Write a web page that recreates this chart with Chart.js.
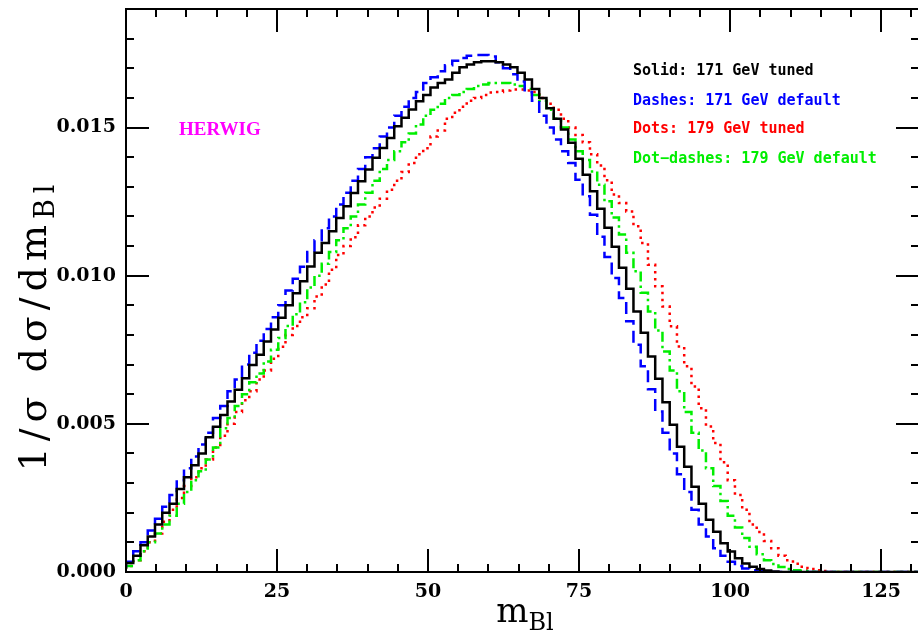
<!DOCTYPE html>
<html>
<head>
<meta charset="utf-8">
<script src="https://cdn.jsdelivr.net/npm/chart.js@4.4.1/dist/chart.umd.min.js"></script>
<style>
  html, body { margin: 0; padding: 0; background: #fff; overflow: hidden; }
  #wrap { position: relative; width: 918px; height: 637px; }
</style>
</head>
<body>
<div id="wrap"><canvas id="c" width="918" height="637"></canvas></div>
<script>
// ---------- DATA ----------
const binWidth = 1.2;          // GeV, histogram bin width
const xTickLabels = [0, 25, 50, 75, 100, 125];
const yTickLabels = [0.000, 0.005, 0.010, 0.015];

const seriesNames = [
  'Solid: 171 GeV tuned',
  'Dashes: 171 GeV default',
  'Dots: 179 GeV tuned',
  'Dot\u2212dashes: 179 GeV default'
];

const solid171Tuned = [
  0.00012,0.0003,0.00055,0.0009,0.0012,0.0016,0.0020,0.0023,0.0028,0.0032,
  0.0036,0.0040,0.00455,0.0049,0.0053,0.00575,0.00615,0.00654,0.00699,0.00733,
  0.00778,0.00818,0.00858,0.0090,0.00941,0.00981,0.01031,0.01077,0.0111,0.0115,
  0.01195,0.01234,0.01279,0.01319,0.01358,0.01398,0.01431,0.01465,0.01504,0.01533,
  0.01561,0.01589,0.0161,0.01635,0.0165,0.01662,0.01685,0.01703,0.01713,0.0172,
  0.01724,0.01724,0.0172,0.01713,0.01703,0.01685,0.01662,0.0163,0.0160,0.01565,
  0.0153,0.01493,0.01449,0.01395,0.01341,0.01285,0.01226,0.01162,0.01098,0.01027,
  0.00956,0.00879,0.00807,0.00727,0.00652,0.00573,0.00497,0.00423,0.00355,0.00288,
  0.0023,0.00176,0.00136,0.00097,0.00069,0.00046,0.00029,0.00018,0.0001,0.00005,
  0.00002,0,0,0,0,0,0,0,0,0,
  0,0,0,0,0,0,0,0,0,0
];

const dashes171Default = [
  0.00015,0.00035,0.0007,0.0010,0.0014,0.0018,0.0022,0.0026,0.0031,0.0035,
  0.0039,0.0043,0.0047,0.0052,0.0056,0.0061,0.0065,0.0070,0.0074,0.0078,
  0.0082,0.0086,0.0090,0.0095,0.0099,0.0103,0.0108,0.0112,0.0116,0.0120,
  0.0124,0.0128,0.0132,0.0136,0.0140,0.0143,0.0147,0.0150,0.0154,0.0157,
  0.0160,0.0162,0.0165,0.0167,0.0169,0.0171,0.01725,0.01735,0.01742,0.01745,
  0.01745,0.0174,0.0172,0.0170,0.0168,0.01655,0.0162,0.0159,0.0154,0.0150,
  0.0146,0.0142,0.0138,0.01324,0.01268,0.01206,0.01131,0.01063,0.00992,0.00925,
  0.00846,0.00767,0.00694,0.00617,0.00542,0.0047,0.0040,0.0033,0.0027,0.0021,
  0.0016,0.0012,0.0008,0.00055,0.00035,0.0002,0.00012,0.00006,0.00003,0.00001,
  0,0,0,0,0,0,0,0,0,0,
  0,0,0,0,0,0,0,0,0,0
];

const dots179Tuned = [
  0.0001,0.0002,0.0004,0.0007,0.0010,0.0013,0.0017,0.0021,0.0025,0.0029,
  0.0032,0.0035,0.0038,0.0042,0.0046,0.0050,0.0054,0.0058,0.0061,0.0065,
  0.0068,0.0072,0.0076,0.0080,0.0083,0.0086,0.0089,0.0093,0.0097,0.0102,
  0.0107,0.0110,0.0113,0.0117,0.0120,0.0123,0.0126,0.0129,0.0132,0.0135,
  0.0138,0.0141,0.0143,0.0147,0.0149,0.0153,0.0155,0.0157,0.0159,0.0160,
  0.0161,0.01618,0.0162,0.01625,0.01628,0.01628,0.01625,0.0162,0.0160,0.0158,
  0.0156,0.0153,0.0150,0.01475,0.0145,0.0141,0.01372,0.01322,0.01274,0.01245,
  0.01217,0.01167,0.0111,0.01037,0.00964,0.00896,0.00829,0.00761,0.00694,0.00626,
  0.00553,0.00491,0.00435,0.0037,0.0031,0.0026,0.0021,0.0016,0.00135,0.00105,
  0.0008,0.00055,0.0004,0.00028,0.00018,0.0001,0.00006,0.00003,0,0,
  0,0,0,0,0,0,0,0,0,0
];

const dotDashes179Default = [
  0.0001,0.0002,0.0004,0.0007,0.0010,0.0013,0.0016,0.0019,0.0023,0.0027,
  0.0031,0.0034,0.0038,0.0042,0.00485,0.0052,0.0056,0.0060,0.0064,0.0067,
  0.0071,0.0075,0.0079,0.0083,0.0087,0.0091,0.0096,0.0100,0.0104,0.0108,
  0.0112,0.0116,0.0120,0.0124,0.0128,0.0132,0.0136,0.0139,0.0142,0.0145,
  0.0148,0.0151,0.0154,0.0156,0.0158,0.0160,0.0161,0.0162,0.0163,0.0164,
  0.01645,0.0165,0.0165,0.0165,0.01645,0.0164,0.0163,0.0161,0.0159,0.0156,
  0.0153,0.0150,0.0146,0.0142,0.0139,0.01352,0.01307,0.01251,0.01196,0.01139,
  0.01077,0.01015,0.00942,0.00879,0.00815,0.00744,0.0068,0.0061,0.0054,0.0047,
  0.0041,0.0035,0.0029,0.0024,0.0019,0.0015,0.00115,0.00085,0.0006,0.0004,
  0.00027,0.00017,0.0001,0.00006,0.00003,0.00001,0,0,0,0,
  0,0,0,0,0,0,0,0,0,0
];

// ---------- build histogram points (bin lower edges) ----------
function toPoints(vals) {
  const pts = vals.map((v, i) => ({ x: i * binWidth, y: v }));
  pts.push({ x: vals.length * binWidth, y: vals[vals.length - 1] });
  return pts;
}

const X_MAX = 131.1, Y_MAX = 0.019;

const frameTicks = {
  id: 'frameTicks',
  afterDraw(chart) {
    const ctx = chart.ctx, a = chart.chartArea;
    const xs = chart.scales.x, ys = chart.scales.y;
    ctx.save();
    ctx.strokeStyle = '#000';
    ctx.lineWidth = 2;
    // frame: top, left, bottom (right edge lies at the picture border)
    ctx.beginPath();
    ctx.moveTo(a.right + 2, a.top); ctx.lineTo(a.left, a.top);
    ctx.lineTo(a.left, a.bottom); ctx.lineTo(a.right + 2, a.bottom);
    ctx.stroke();
    ctx.beginPath();
    xs.ticks.forEach(t => {
      const px = Math.round(xs.getPixelForValue(t.value));
      const major = Math.abs(t.value / 25 - Math.round(t.value / 25)) < 1e-6;
      const L = major ? 23 : 8;
      ctx.moveTo(px, a.bottom); ctx.lineTo(px, a.bottom - L);
      ctx.moveTo(px, a.top); ctx.lineTo(px, a.top + L);
    });
    ys.ticks.forEach(t => {
      const py = Math.round(ys.getPixelForValue(t.value));
      const major = Math.abs(t.value / 0.005 - Math.round(t.value / 0.005)) < 1e-6;
      const L = major ? 23 : 8;
      ctx.moveTo(a.left, py); ctx.lineTo(a.left + L, py);
      ctx.moveTo(a.right + 1, py); ctx.lineTo(a.right + 1 - L, py);
    });
    ctx.stroke();

    // Axis titles with subscripts
    function subText(main, sub, x, y, fs, sfs, drop, spacing) {
      ctx.letterSpacing = spacing + 'px';
      ctx.font = fs + 'px "DejaVu Serif"';
      const w1 = ctx.measureText(main).width;
      ctx.font = sfs + 'px "DejaVu Serif"';
      const w2 = ctx.measureText(sub).width;
      const x0 = x - (w1 + w2) / 2;
      ctx.fillStyle = '#000';
      ctx.textAlign = 'left';
      ctx.textBaseline = 'alphabetic';
      ctx.font = fs + 'px "DejaVu Serif"';
      ctx.fillText(main, x0, y);
      ctx.font = sfs + 'px "DejaVu Serif"';
      ctx.fillText(sub, x0 + w1, y + drop);
      ctx.letterSpacing = '0px';
    }
    subText('m', 'Bl', 525, 622, 34, 24, 8, 0);
    ctx.save();
    ctx.translate(46, 325);
    ctx.rotate(-Math.PI / 2);
    subText('1/\u03C3 d\u03C3/dm', 'Bl', 0, 0, 38, 27, 8, 6);
    ctx.restore();

    // HERWIG label
    ctx.fillStyle = '#ff00ff';
    ctx.font = 'bold 19px "Liberation Serif"';
    ctx.textAlign = 'left';
    ctx.fillText('HERWIG', 179, 135);

    // Legend text
    const cols = ['#000000', '#0000ff', '#ff0000', '#00ee00'];
    const bases = [75, 105, 133, 163];
    ctx.font = 'bold 15px "DejaVu Sans Mono"';
    seriesNames.forEach((s, i) => {
      ctx.fillStyle = cols[i];
      ctx.fillText(s, 633, bases[i]);
    });
    ctx.restore();
  }
};

new Chart(document.getElementById('c'), {
  type: 'line',
  data: {
    datasets: [
      { label: seriesNames[0], data: toPoints(solid171Tuned), borderColor: '#000000', borderWidth: 2.5, stepped: 'after', pointRadius: 0, order: 0 },
      { label: seriesNames[1], data: toPoints(dashes171Default), borderColor: '#0000ff', borderWidth: 2.5, borderDash: [12, 6], stepped: 'after', pointRadius: 0, order: 1 },
      { label: seriesNames[2], data: toPoints(dots179Tuned), borderColor: '#ff0000', borderWidth: 2.5, borderDash: [2.5, 4.5], stepped: 'after', pointRadius: 0, order: 3 },
      { label: seriesNames[3], data: toPoints(dotDashes179Default), borderColor: '#00ee00', borderWidth: 2.5, borderDash: [10, 4, 2.5, 4], stepped: 'after', pointRadius: 0, order: 2 }
    ]
  },
  options: {
    responsive: false,
    animation: false,
    layout: { padding: { left: 0, right: 0, top: 9, bottom: 0 } },
    plugins: { legend: { display: false }, tooltip: { enabled: false } },
    scales: {
      x: {
        type: 'linear', min: 0, max: X_MAX,
        grid: { display: false, drawTicks: false }, border: { display: false },
        afterFit(s) { s.height = 65; s.paddingLeft = 0; s.paddingRight = 0; },
        ticks: {
          stepSize: 5, includeBounds: false, autoSkip: false, maxRotation: 0, padding: 9,
          color: '#000', font: { family: '"DejaVu Serif"', weight: 'bold', size: 19 },
          callback: v => xTickLabels.includes(v) ? String(v) : ''
        }
      },
      y: {
        type: 'linear', min: 0, max: Y_MAX,
        grid: { display: false, drawTicks: false }, border: { display: false },
        afterFit(s) { s.width = 126; s.paddingTop = 0; s.paddingBottom = 0; },
        ticks: {
          stepSize: 0.001, includeBounds: false, autoSkip: false, padding: 10,
          color: '#000', font: { family: '"DejaVu Serif"', weight: 'bold', size: 19 },
          callback: v => {
            const m = yTickLabels.find(t => Math.abs(t - v) < 1e-9);
            return m !== undefined ? m.toFixed(3) : '';
          }
        }
      }
    }
  },
  plugins: [frameTicks]
});
</script>
</body>
</html>
